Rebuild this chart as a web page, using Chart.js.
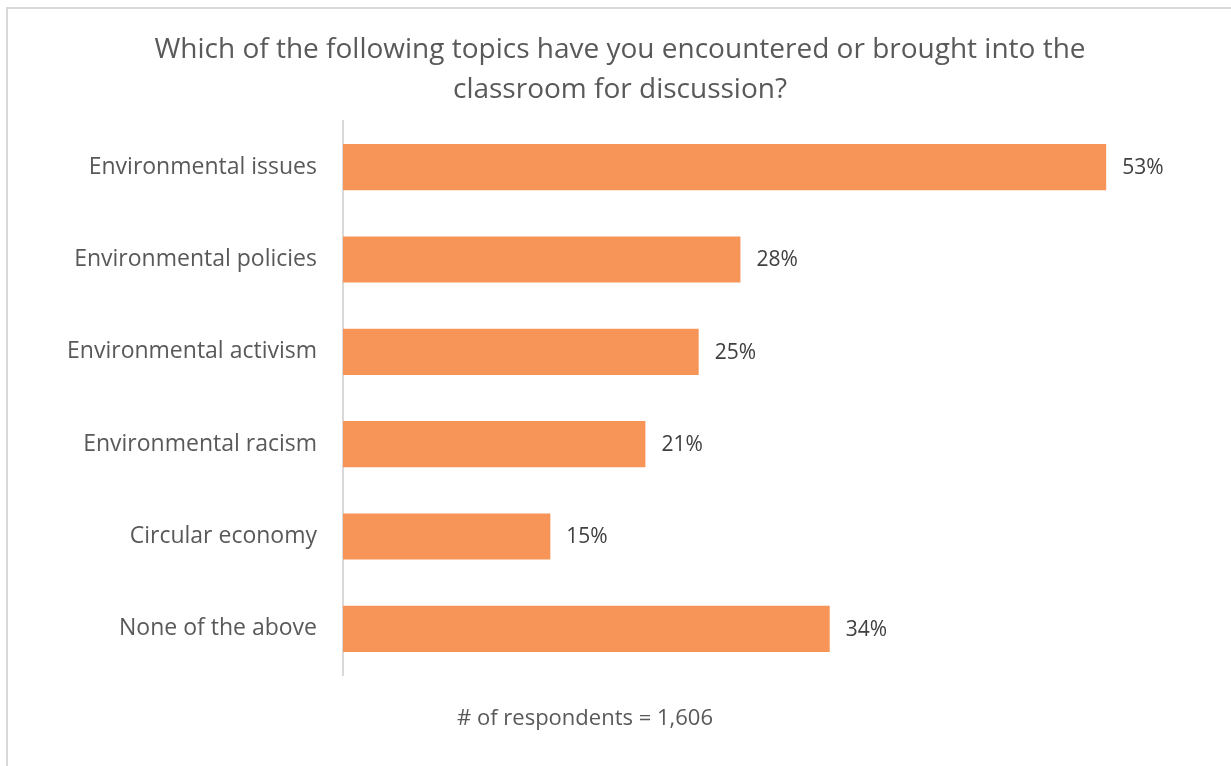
<!DOCTYPE html>
<html>
<head>
<meta charset="utf-8">
<script src="https://cdn.jsdelivr.net/npm/chart.js@4"></script>
<style>
  html, body { margin: 0; padding: 0; background: #fff; }
  #wrap { width: 1231px; height: 766px; }
</style>
</head>
<body>
<div id="wrap"><canvas id="myChart" width="1231" height="766"></canvas></div>
<script>
const titleLines = ['Which of the following topics have you encountered or brought into the', 'classroom for discussion?'];
const footnote = '# of respondents = 1,606';
const categories = ['Environmental issues', 'Environmental policies', 'Environmental activism', 'Environmental racism', 'Circular economy', 'None of the above'];
const shares = [53, 27.6, 24.7, 21, 14.4, 33.8];
const shareLabels = ['53%', '28%', '25%', '21%', '15%', '34%'];

const FONT = '"Open Sans", sans-serif';

// frame, title, footnote and value labels
const decorations = {
    id: 'decorations',
    afterDraw(chart) {
        const ctx = chart.ctx;
        ctx.save();
        ctx.fillStyle = '#d9d9d9';
        ctx.fillRect(6, 7, 2, 759);
        ctx.fillRect(6, 7, 1225, 2);

        ctx.fillStyle = '#595959';
        ctx.font = '28px ' + FONT;
        ctx.textAlign = 'center';
        ctx.textBaseline = 'alphabetic';
        ctx.fillText(titleLines[0], 620, 58);
        ctx.fillText(titleLines[1], 620, 98);

        ctx.font = '22px ' + FONT;
        ctx.fillText(footnote, 585, 725);

        const meta = chart.getDatasetMeta(0);
        ctx.fillStyle = '#404040';
        ctx.font = '21px ' + FONT;
        ctx.textAlign = 'left';
        ctx.textBaseline = 'middle';
        meta.data.forEach((bar, i) => {
            ctx.fillText(shareLabels[i], bar.x + 16, bar.y + 1);
        });
        ctx.restore();
    }
};

new Chart(document.getElementById('myChart'), {
    type: 'bar',
    data: {
        labels: categories,
        datasets: [{
            data: shares,
            backgroundColor: '#f79559',
            categoryPercentage: 0.5,
            barPercentage: 1
        }]
    },
    options: {
        indexAxis: 'y',
        responsive: false,
        animation: false,
        events: [],
        layout: { padding: { top: 121, bottom: 91, left: 0, right: 24 } },
        plugins: {
            legend: { display: false },
            title: { display: false },
            tooltip: { enabled: false }
        },
        scales: {
            x: { display: false, min: 0, max: 60 },
            y: {
                afterFit(scale) { scale.width = 343; },
                grid: { display: false, drawTicks: false },
                border: { display: true, color: '#d9d9d9', width: 2 },
                ticks: {
                    padding: 26,
                    color: '#595959',
                    font: { family: FONT, size: 23 }
                }
            }
        }
    },
    plugins: [decorations]
});
</script>
</body>
</html>
